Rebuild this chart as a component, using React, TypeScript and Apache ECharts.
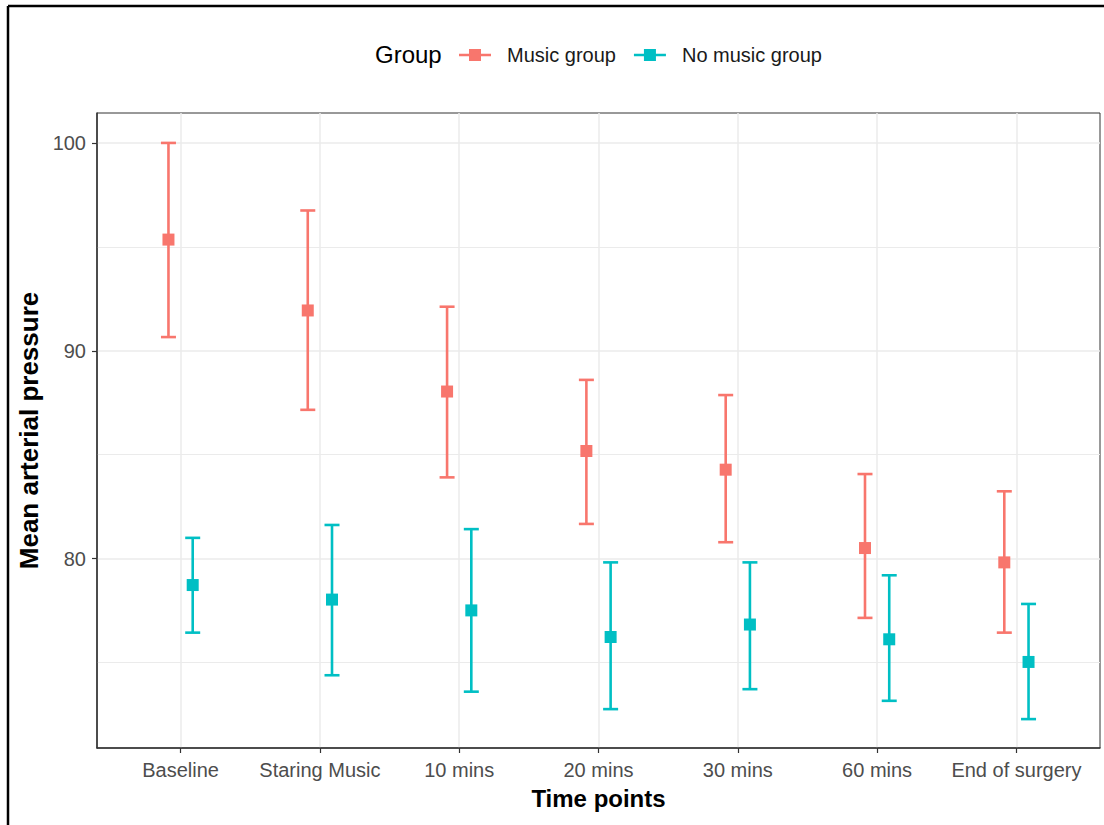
import React, { useEffect, useRef } from "react";
import * as echarts from "echarts";

const categories = ["Baseline", "Staring Music", "10 mins", "20 mins", "30 mins", "60 mins", "End of surgery"];
const musicMean = [95.35, 91.94, 88.04, 85.18, 84.28, 80.51, 79.82];
const musicLower = [90.66, 87.16, 83.91, 81.67, 80.79, 77.15, 76.44];
const musicUpper = [100.0, 96.75, 92.12, 88.6, 87.87, 84.07, 83.24];
const noMusicMean = [78.73, 78.03, 77.51, 76.23, 76.83, 76.12, 75.03];
const noMusicLower = [76.44, 74.39, 73.6, 72.76, 73.72, 73.16, 72.28];
const noMusicUpper = [81.0, 81.62, 81.42, 79.82, 79.82, 79.2, 77.82];
const yTickValues = [80, 90, 100];
const yGridValues = [75, 80, 85, 90, 95, 100];
const groups = ["Music group", "No music group"];

const MUSIC_COLOR = "#F8766D";
const NOMUSIC_COLOR = "#00BFC4";
const DODGE = 0.087;
const FONT = "'Liberation Sans', Arial, sans-serif";
const LEGEND_ICON =
  "path://M0,4.75 L10,4.75 L10,0 L22,0 L22,4.75 L32,4.75 L32,7.25 L22,7.25 L22,12 L10,12 L10,7.25 L0,7.25 Z";

function errorBarSeries(name: string, color: string, lower: number[], upper: number[], offset: number) {
  return {
    type: "custom",
    name,
    z: 3,
    data: categories.map((_, i) => [i + offset, lower[i], upper[i]]),
    encode: { x: 0, y: [1, 2] },
    itemStyle: { color },
    renderItem: (params: any, api: any) => {
      const x = api.value(0);
      const pLo = api.coord([x, api.value(1)]);
      const pHi = api.coord([x, api.value(2)]);
      const half = 7.5;
      const style = { stroke: color, lineWidth: 2.6, fill: "none" };
      return {
        type: "group",
        children: [
          { type: "line", shape: { x1: pHi[0], y1: pHi[1], x2: pLo[0], y2: pLo[1] }, style },
          { type: "line", shape: { x1: pHi[0] - half, y1: pHi[1], x2: pHi[0] + half, y2: pHi[1] }, style },
          { type: "line", shape: { x1: pLo[0] - half, y1: pLo[1], x2: pLo[0] + half, y2: pLo[1] }, style },
        ],
      };
    },
  };
}

function pointSeries(name: string, color: string, mean: number[], offset: number) {
  return {
    type: "scatter",
    name,
    z: 4,
    symbol: "rect",
    symbolSize: 12,
    itemStyle: { color, opacity: 1 },
    data: categories.map((_, i) => [i + offset, mean[i]]),
  };
}

export default function App() {
  const ref = useRef<HTMLDivElement>(null);
  useEffect(() => {
    if (!ref.current) return;
    const chart = echarts.init(ref.current, null, { renderer: "svg" });
    const gridColor = "#EBEBEB";
    const option: any = {
      animation: false,
      backgroundColor: "#ffffff",
      textStyle: { fontFamily: FONT },
      grid: {
        left: 97,
        right: 4,
        top: 113,
        bottom: 77,
        show: true,
        borderColor: "#333333",
        borderWidth: 1,
        backgroundColor: "transparent",
      },
      legend: {
        left: 454,
        top: 40,
        itemWidth: 32,
        itemHeight: 12,
        itemGap: 18,
        selectedMode: false,
        textStyle: { fontSize: 20, color: "#1a1a1a", fontFamily: FONT, padding: [0, 0, 0, 11] },
        data: [
          { name: groups[0], icon: LEGEND_ICON, itemStyle: { color: MUSIC_COLOR } },
          { name: groups[1], icon: LEGEND_ICON, itemStyle: { color: NOMUSIC_COLOR } },
        ],
      },
      graphic: [
        { type: "line", shape: { x1: 8, y1: 6, x2: 1104, y2: 6 }, style: { stroke: "#000", lineWidth: 2.5 }, silent: true },
        { type: "line", shape: { x1: 8, y1: 6, x2: 8, y2: 825 }, style: { stroke: "#000", lineWidth: 2.5 }, silent: true },
        {
          type: "text",
          left: 375,
          top: 42,
          style: { text: "Group", fontSize: 24, fill: "#000", fontFamily: FONT },
          silent: true,
        },
      ],
      xAxis: {
        type: "value",
        min: -0.6,
        max: 6.6,
        name: "Time points",
        nameLocation: "middle",
        nameGap: 38,
        nameTextStyle: { fontSize: 24, fontWeight: "bold", color: "#000", fontFamily: FONT },
        axisLine: { show: true, onZero: false, lineStyle: { color: "#333333", width: 1.5 } },
        axisTick: {
          show: true,
          length: 5,
          customValues: categories.map((_, i) => i),
          lineStyle: { color: "#333333", width: 1.2 },
        },
        axisLabel: {
          show: true,
          margin: 12,
          fontSize: 20,
          color: "#4D4D4D",
          fontFamily: FONT,
          customValues: categories.map((_, i) => i),
          formatter: (v: number) => categories[Math.round(v)] ?? "",
        },
        splitLine: { show: false },
      },
      yAxis: {
        type: "value",
        min: 70.89,
        max: 101.44,
        name: "Mean arterial pressure",
        nameLocation: "middle",
        nameGap: 46,
        nameTextStyle: { fontSize: 26, fontWeight: "bold", color: "#000", fontFamily: FONT },
        axisLine: { show: true, onZero: false, lineStyle: { color: "#333333", width: 1.5 } },
        axisTick: { show: true, length: 5, customValues: yTickValues, lineStyle: { color: "#333333", width: 1.2 } },
        axisLabel: {
          show: true,
          margin: 11,
          fontSize: 20,
          color: "#4D4D4D",
          fontFamily: FONT,
          customValues: yTickValues,
        },
        splitLine: { show: false },
      },
      series: [
        {
          type: "line",
          name: "grid",
          data: [],
          z: 0,
          silent: true,
          markLine: {
            silent: true,
            z: 0,
            symbol: "none",
            label: { show: false },
            animation: false,
            data: [
              ...categories.map((_, i) => ({ xAxis: i, lineStyle: { color: gridColor, width: 1.5, type: "solid" } })),
              ...yGridValues.map((v) => ({
                yAxis: v,
                lineStyle: { color: gridColor, width: v % 10 === 0 ? 1.5 : 1.2, type: "solid" },
              })),
            ],
          },
        },
        errorBarSeries(groups[0], MUSIC_COLOR, musicLower, musicUpper, -DODGE),
        errorBarSeries(groups[1], NOMUSIC_COLOR, noMusicLower, noMusicUpper, DODGE),
        pointSeries(groups[0], MUSIC_COLOR, musicMean, -DODGE),
        pointSeries(groups[1], NOMUSIC_COLOR, noMusicMean, DODGE),
      ],
    };
    chart.setOption(option);
    return () => chart.dispose();
  }, []);
  return (
    <div
      ref={ref}
      style={{ position: "absolute", left: 0, top: 0, width: 1104, height: 825, background: "#fff" }}
    />
  );
}
